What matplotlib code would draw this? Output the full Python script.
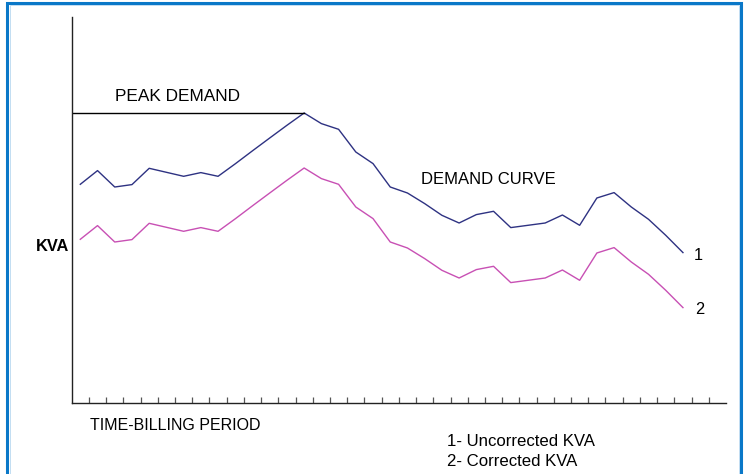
import matplotlib
matplotlib.use("Agg")
import matplotlib.pyplot as plt
from matplotlib.patches import Rectangle
import numpy as np

plt.rcParams['font.family'] = ['Liberation Sans', 'DejaVu Sans']

# Billing-period index (data points sit between tick marks)
periods = np.arange(36) + 0.5
tick_positions = np.arange(1, 38)

uncorrected_kva = [219, 232.7, 216.3, 218.7, 235, 231, 227, 230.7, 227, 239.5,
                   252.5, 265.3, 278, 290.3, 279.7, 274, 251.3, 239.7, 216.3, 210.3,
                   199.7, 188, 180.3, 188.7, 192, 175.7, 178, 180.3, 188.3, 178,
                   205.3, 210.7, 196.3, 184, 168, 150.7]
corrected_kva = [164, 177.7, 161.3, 163.7, 180, 176, 172, 175.7, 172, 184.5,
                 197.5, 210.3, 223, 235.3, 224.7, 219, 196.3, 184.7, 161.3, 155.3,
                 144.7, 133, 125.3, 133.7, 137, 120.7, 123, 125.3, 133.3, 123,
                 150.3, 155.7, 141.3, 129, 113, 95.7]

W, H = 749, 474
fig = plt.figure(figsize=(W / 100, H / 100), dpi=100)

# blue frame around the figure
fig.patches.append(Rectangle((7 / W, -0.05), (741 - 7) / W, 1.05 - 2.5 / H,
                             transform=fig.transFigure, fill=False,
                             edgecolor='#0a78c8', linewidth=2.2, zorder=0))
fig.patches.append(Rectangle((9.5 / W, -0.05), (738.5 - 9.5) / W, 1.05 - 5 / H,
                             transform=fig.transFigure, fill=False,
                             edgecolor='#b8d8f0', linewidth=0.6, zorder=0))

ax = fig.add_axes([71.7 / W, (H - 403.3) / H, (726 - 71.7) / W, (403.3 - 17) / H])
ax.set_xlim(0, 38)
ax.set_ylim(0, 386.3)

ax.plot(periods, uncorrected_kva, color='#2e3282', linewidth=1.0)
ax.plot(periods, corrected_kva, color='#c850b4', linewidth=1.0)

# peak demand reference line
peak_idx = int(np.argmax(uncorrected_kva))
ax.plot([0, periods[peak_idx]], [uncorrected_kva[peak_idx]] * 2,
        color='black', linewidth=1.0)

for s in ['top', 'right']:
    ax.spines[s].set_visible(False)
for s in ['left', 'bottom']:
    ax.spines[s].set_color('#222222')
    ax.spines[s].set_linewidth(1.0)

ax.set_xticks(tick_positions)
ax.set_xticklabels([])
ax.tick_params(axis='x', direction='in', length=4, width=0.9, color='#555555')
ax.set_yticks([])

fs = 11.8
ax.text(2.5, 306.5, 'PEAK DEMAND', fontsize=12.4, ha='left', va='center')
ax.text(20.3, 224.3, 'DEMAND CURVE', fontsize=12.0, ha='left', va='center')
ax.text(36.12, 148.3, '1', fontsize=fs, ha='left', va='center')
ax.text(36.2, 94, '2', fontsize=fs, ha='left', va='center')

fig.text(36.0 / W, 1 - 246.7 / H, 'KVA', fontsize=11.8, fontweight='bold',
         ha='left', va='center')
fig.text(90 / W, 1 - 425.7 / H, 'TIME-BILLING PERIOD', fontsize=11.5,
         ha='left', va='center')
fig.text(446.7 / W, 1 - 442 / H, '1- Uncorrected KVA', fontsize=12.1,
         ha='left', va='center')
fig.text(446.7 / W, 1 - 461.3 / H, '2- Corrected KVA', fontsize=12.1,
         ha='left', va='center')

fig.savefig('out.png', dpi=100)
